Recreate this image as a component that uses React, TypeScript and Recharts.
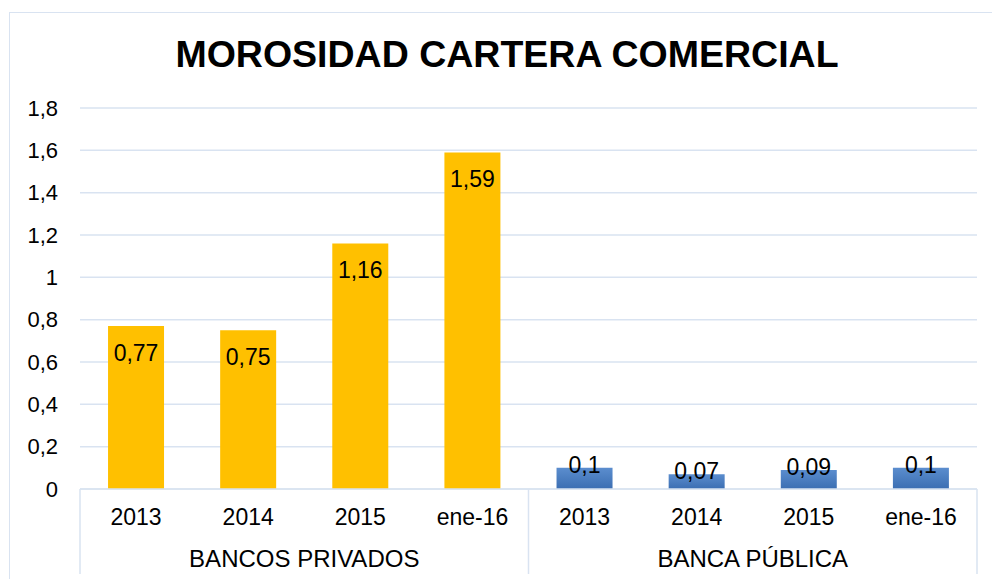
import React from 'react';
import { BarChart, Bar, XAxis, YAxis, CartesianGrid, Cell, LabelList } from 'recharts';

const categories = ['2013', '2014', '2015', 'ene-16', '2013', '2014', '2015', 'ene-16'];
const groups = ['BANCOS PRIVADOS', 'BANCA PÚBLICA'];
const groupOf = [0, 0, 0, 0, 1, 1, 1, 1];
const values = [0.77, 0.75, 1.16, 1.59, 0.1, 0.07, 0.09, 0.1];
const yTicks = [0, 0.2, 0.4, 0.6, 0.8, 1, 1.2, 1.4, 1.6, 1.8];

const data = categories.map((c, i) => ({ id: `${groups[groupOf[i]]}-${c}`, year: c, group: groupOf[i], value: values[i] }));

const W = 992;
const H = 579;
const plotLeft = 80;
const plotRight = 977;
const plotTop = 108;
const plotBottom = 489;
const band = (plotRight - plotLeft) / categories.length;
const font = '"Liberation Sans", Arial, sans-serif';
const lineColor = '#D9E3F1';

const fmt = (v: number) => String(v).replace('.', ',');

const XTick = (props: any) => {
  const { x, index } = props;
  const row = data[index];
  const first = index === 0 || data[index - 1].group !== row.group;
  const last = index === data.length - 1;
  return (
    <g>
      <text x={x} y={525} textAnchor="middle" fontSize={23} fill="#000" fontFamily={font}>
        {row.year}
      </text>
      {first && (
        <>
          <line x1={x - band / 2} x2={x - band / 2} y1={plotBottom} y2={574} stroke={lineColor} strokeWidth={1.5} />
          <text x={x + band * 1.5} y={567} textAnchor="middle" fontSize={24} fill="#000" fontFamily={font}>
            {groups[row.group]}
          </text>
        </>
      )}
      {last && <line x1={x + band / 2} x2={x + band / 2} y1={plotBottom} y2={574} stroke={lineColor} strokeWidth={1.5} />}
    </g>
  );
};

const BarLabel = (props: any) => {
  const { x, y, width, index, value } = props;
  const inside = data[index].group === 0;
  return (
    <text x={x + width / 2} y={inside ? y + 35 : y + 5} textAnchor="middle" fontSize={23} fill="#000" fontFamily={font}>
      {fmt(value)}
    </text>
  );
};

export default function App() {
  return (
    <div style={{ position: 'fixed', left: 0, top: 0, width: W, height: H, overflow: 'hidden', background: '#fff' }}>
      <div style={{ position: 'absolute', left: 9, top: 12, width: 1200, height: 800, border: `1px solid ${lineColor}` }} />
      <svg style={{ position: 'absolute', left: 0, top: 0 }} width={W} height={100}>
        <text x={507} y={67} textAnchor="middle" fontSize={37.5} fontWeight="bold" fill="#000" fontFamily={font}>
          MOROSIDAD CARTERA COMERCIAL
        </text>
      </svg>
      <div style={{ position: 'absolute', left: 0, top: 0 }}>
        <BarChart
          width={W}
          height={H}
          data={data}
          margin={{ top: plotTop, right: W - plotRight, left: 0, bottom: 0 }}
          barCategoryGap="25%"
        >
          <defs>
            <linearGradient id="blueGrad" x1="0" y1="0" x2="0" y2="1">
              <stop offset="0%" stopColor="#5B8DCE" />
              <stop offset="100%" stopColor="#3B6EB2" />
            </linearGradient>
          </defs>
          <CartesianGrid horizontal vertical={false} stroke={lineColor} strokeWidth={1.5} />
          <XAxis
            dataKey="id"
            height={H - plotBottom}
            tick={<XTick />}
            tickLine={false}
            tickSize={0}
            interval={0}
            axisLine={{ stroke: lineColor, strokeWidth: 1.5 }}
          />
          <YAxis
            width={plotLeft}
            domain={[0, 1.8]}
            ticks={yTicks}
            tickFormatter={fmt}
            axisLine={false}
            tickLine={false}
            tickSize={0}
            tickMargin={22}
            tick={{ fontSize: 22, fill: '#000', fontFamily: font }}
          />
          <Bar dataKey="value" isAnimationActive={false}>
            {data.map((d, i) => (
              <Cell key={i} fill={d.group === 0 ? '#FFC000' : 'url(#blueGrad)'} />
            ))}
            <LabelList dataKey="value" content={<BarLabel />} />
          </Bar>
        </BarChart>
      </div>
    </div>
  );
}
